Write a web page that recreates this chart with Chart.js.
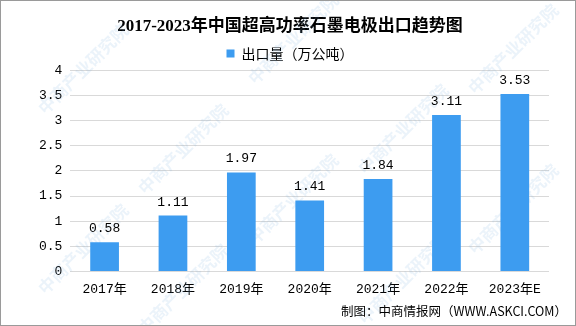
<!DOCTYPE html>
<html>
<head>
<meta charset="utf-8">
<script src="https://cdn.jsdelivr.net/npm/chart.js@4.4.1/dist/chart.umd.min.js"></script>
<style>
  html, body { margin: 0; padding: 0; background: #fff; }
  #wrap { width: 574px; height: 324px; border: 1px solid #9a9a9a; position: relative; }
</style>
</head>
<body>
<div id="wrap"><canvas id="exportChart" width="574" height="324"></canvas></div>
<script>
const years = ['2017年', '2018年', '2019年', '2020年', '2021年', '2022年', '2023年E'];
const exportVolume = [0.58, 1.11, 1.97, 1.41, 1.84, 3.11, 3.53];
const yTicks = [0, 0.5, 1, 1.5, 2, 2.5, 3, 3.5, 4];

const numFont = "'Liberation Mono', 'Noto Sans CJK SC', monospace";
const cjkFont = "'Liberation Serif', 'Noto Sans CJK SC', serif";

// faint diagonal watermark text behind the bars
const watermark = {
    id: 'watermark',
    beforeDatasetsDraw(chart) {
        const ctx = chart.ctx;
        ctx.save();
        ctx.font = "bold 17px 'Noto Sans CJK SC'";
        ctx.fillStyle = 'rgba(120, 175, 220, 0.15)';
        const spots = [[40, 110], [250, 80], [470, 90], [40, 290], [250, 240], [470, 250], [140, 190], [360, 170], [140, 330], [360, 320], [580, 180]];
        spots.forEach(([x, y]) => {
            ctx.save();
            ctx.translate(x, y);
            ctx.rotate(-Math.PI / 4);
            ctx.fillText('中商产业研究院', 0, 0);
            ctx.restore();
        });
        ctx.restore();
    }
};

// value labels above each bar
const barLabels = {
    id: 'barLabels',
    afterDatasetsDraw(chart) {
        const ctx = chart.ctx;
        const meta = chart.getDatasetMeta(0);
        ctx.save();
        ctx.font = '13px ' + numFont;
        ctx.fillStyle = '#000';
        ctx.textAlign = 'center';
        ctx.textBaseline = 'bottom';
        meta.data.forEach((bar, i) => {
            ctx.fillText(exportVolume[i].toFixed(2), bar.x, bar.y - 7);
        });
        ctx.restore();
    }
};

// source note in the bottom right corner
const sourceNote = {
    id: 'sourceNote',
    afterDraw(chart) {
        const ctx = chart.ctx;
        ctx.save();
        ctx.font = "12.5px 'Noto Sans CJK SC'";
        ctx.fillStyle = '#000';
        ctx.textAlign = 'right';
        ctx.textBaseline = 'middle';
        ctx.fillText('制图：中商情报网（WWW.ASKCI.COM）', 566, 310);
        ctx.restore();
    }
};

new Chart(document.getElementById('exportChart').getContext('2d'), {
    type: 'bar',
    data: {
        labels: years,
        datasets: [{
            label: '出口量（万公吨）',
            data: exportVolume,
            backgroundColor: '#3d9cf0',
            barPercentage: 0.42,
            categoryPercentage: 1.0
        }]
    },
    options: {
        responsive: false,
        animation: false,
        layout: { padding: { left: 30, right: 26, top: 0, bottom: 26 } },
        plugins: {
            title: {
                display: true,
                text: '2017-2023年中国超高功率石墨电极出口趋势图',
                color: '#000',
                font: { family: cjkFont, size: 17, weight: 'bold' },
                padding: { top: 15, bottom: 8 }
            },
            legend: {
                display: true,
                labels: {
                    boxWidth: 8,
                    boxHeight: 8,
                    color: '#000',
                    font: { family: "'Noto Sans CJK SC'", size: 14 },
                    padding: 2
                }
            },
            tooltip: { enabled: false }
        },
        scales: {
            x: {
                grid: { display: false },
                border: { display: false },
                ticks: {
                    color: '#000',
                    font: { family: numFont, size: 13 },
                    padding: 2
                }
            },
            y: {
                min: 0,
                max: 4,
                afterBuildTicks(axis) {
                    axis.ticks = yTicks.map(v => ({ value: v }));
                },
                grid: { color: '#d9d9d9', drawTicks: false },
                border: { display: false },
                ticks: {
                    color: '#000',
                    font: { family: numFont, size: 13 },
                    padding: 8,
                    callback: v => String(v)
                }
            }
        }
    },
    plugins: [watermark, barLabels, sourceNote]
});
</script>
</body>
</html>
